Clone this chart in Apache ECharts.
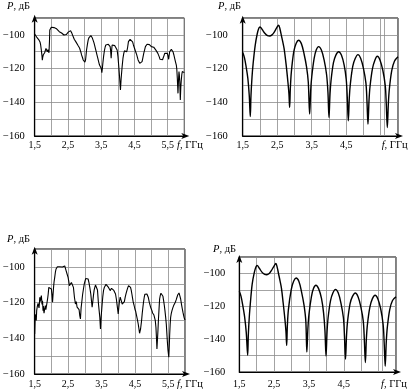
<!DOCTYPE html>
<html><head><meta charset="utf-8">
<script src="https://cdn.jsdelivr.net/npm/echarts@6/dist/echarts.min.js"></script>
<style>html,body{margin:0;padding:0;background:#fff}#c{width:412px;height:392px}</style>
</head><body><div id="c"></div>
<script>
// ---- data (f in GHz, P in dB) ----
const yTickLabels = [-160, -140, -120, -100];
const xTickLabelsA = [1.5, 2.5, 3.5, 4.5, 5.5];
const xTickLabelsB = [1.5, 2.5, 3.5, 4.5];
const extraGridB = [5.61];

const measuredTop = [
[1.50,-99.5],[1.51,-99.0],[1.52,-100.5],[1.54,-100.2],[1.56,-101.3],[1.58,-101.0],[1.60,-102.2],[1.62,-102.8],[1.64,-103.5],[1.66,-104.2],[1.68,-106.0],[1.70,-109.0],[1.72,-112.5],[1.73,-115.0],[1.745,-113.0],[1.76,-111.8],[1.78,-112.3],[1.80,-110.6],[1.82,-109.5],[1.84,-108.0],[1.86,-107.0],[1.87,-108.5],[1.88,-110.0],[1.90,-108.8],[1.91,-109.3],[1.93,-110.6],[1.945,-104],[1.955,-97.1],[1.97,-96.0],[1.985,-96.3],[2.00,-95.5],[2.02,-95.8],[2.04,-96.1],[2.06,-95.4],[2.08,-95.7],[2.09,-95.1],[2.11,-95.9],[2.13,-95.4],[2.14,-95.7],[2.16,-96.4],[2.19,-96.7],[2.21,-97.4],[2.24,-98.1],[2.26,-97.6],[2.29,-98.1],[2.31,-98.9],[2.33,-99.1],[2.36,-99.8],[2.38,-100.1],[2.40,-99.6],[2.43,-99.5],[2.45,-99.8],[2.48,-99.1],[2.51,-98.4],[2.53,-98.1],[2.56,-97.7],[2.58,-97.5],[2.60,-98.3],[2.62,-99.1],[2.645,-100.4],[2.67,-101.5],[2.69,-102.6],[2.72,-103.0],[2.745,-104.3],[2.77,-105.0],[2.80,-106.2],[2.82,-107.0],[2.85,-107.8],[2.87,-108.6],[2.89,-110.3],[2.91,-111.9],[2.94,-113.6],[2.96,-114.9],[2.99,-115.9],[3.01,-116.2],[3.03,-114.9],[3.045,-112],[3.06,-109.0],[3.085,-105.8],[3.11,-103.0],[3.135,-101.6],[3.16,-100.7],[3.19,-100.4],[3.21,-101.0],[3.235,-101.9],[3.26,-103.0],[3.28,-104.5],[3.30,-106.0],[3.325,-108.0],[3.35,-110.0],[3.375,-112.0],[3.40,-113.9],[3.425,-116.0],[3.45,-117.9],[3.475,-118.8],[3.50,-119.8],[3.52,-122.4],[3.535,-120],[3.55,-116.9],[3.575,-112.5],[3.60,-109.0],[3.62,-107.2],[3.64,-106.0],[3.665,-105.3],[3.69,-105.0],[3.715,-105.6],[3.74,-105.4],[3.76,-106.2],[3.77,-107.0],[3.785,-109.5],[3.80,-113.9],[3.815,-109.0],[3.83,-106.0],[3.86,-105.8],[3.89,-105.6],[3.91,-106.4],[3.93,-106.0],[3.955,-107.2],[3.98,-109.0],[4.005,-113.0],[4.03,-118.9],[4.055,-125.5],[4.08,-132.7],[4.10,-126],[4.13,-118.9],[4.155,-114],[4.18,-111.0],[4.20,-109.5],[4.22,-109.0],[4.245,-110.2],[4.27,-110.0],[4.295,-107.5],[4.32,-104.0],[4.345,-103.0],[4.37,-102.7],[4.39,-102.2],[4.42,-103.0],[4.445,-104.2],[4.47,-106.0],[4.495,-107.5],[4.52,-109.0],[4.545,-110.5],[4.57,-111.9],[4.59,-113.4],[4.61,-114.9],[4.635,-115.9],[4.66,-116.9],[4.69,-117.9],[4.71,-117.0],[4.73,-115.9],[4.755,-113.5],[4.78,-111.0],[4.805,-109.0],[4.83,-107.0],[4.855,-106.0],[4.88,-105.6],[4.90,-105.0],[4.92,-105.3],[4.95,-105.8],[4.98,-106.6],[5.01,-107.0],[5.05,-107.6],[5.08,-107.3],[5.12,-108.0],[5.15,-109.2],[5.18,-110.0],[5.205,-111.0],[5.23,-111.9],[5.25,-113.2],[5.27,-114.5],[5.295,-115.1],[5.32,-115.3],[5.345,-114.8],[5.37,-113.9],[5.39,-112.3],[5.41,-111.0],[5.43,-110.2],[5.45,-110.0],[5.47,-110.4],[5.49,-111.0],[5.51,-112.5],[5.53,-114.5],[5.545,-112.0],[5.56,-110.0],[5.585,-109.0],[5.61,-108.6],[5.635,-109.2],[5.66,-110.0],[5.685,-111.8],[5.71,-113.9],[5.735,-116.0],[5.76,-117.9],[5.775,-120.5],[5.79,-125.8],[5.81,-134.7],[5.825,-127],[5.84,-121.8],[5.85,-123.5],[5.865,-128],[5.88,-138.6],[5.895,-131],[5.91,-126.7],[5.925,-123.5],[5.94,-121.8],[5.955,-122.2],[5.97,-122.8],[5.985,-122.0],[6.00,-122.4]
];

const calcTop = [
[1.50,-110.5],[1.55,-113.5],[1.60,-119],[1.65,-126],[1.69,-136],[1.72,-148.5],
[1.74,-136],[1.77,-125],[1.80,-117.5],[1.86,-106.5],[1.92,-99.5],[1.97,-96],[2.00,-95.3],[2.07,-97],[2.14,-99],[2.22,-100.5],[2.28,-100.7],[2.35,-100],[2.41,-98.5],[2.48,-96],[2.54,-94.3],[2.58,-96.5],[2.62,-100.3],[2.66,-104],[2.70,-108.2],[2.76,-118],[2.81,-128],[2.84,-135],[2.86,-143],
[2.88,-132],[2.91,-122],[2.98,-110],[3.05,-105],[3.12,-103.2],[3.20,-105.2],[3.28,-111.5],[3.35,-119],[3.40,-128],[3.44,-147],
[3.47,-133],[3.50,-125],[3.57,-114],[3.63,-109],[3.70,-107],[3.78,-109],[3.86,-115],[3.93,-123.5],[3.97,-134],[4.00,-149],
[4.03,-135],[4.06,-127],[4.13,-116.5],[4.20,-112],[4.28,-110],[4.36,-112],[4.44,-118],[4.50,-126.5],[4.53,-137],[4.56,-151],
[4.59,-137],[4.62,-129],[4.69,-118.5],[4.76,-114],[4.84,-111.7],[4.92,-114],[5.00,-120],[5.07,-128.5],[5.10,-139],[5.13,-153],
[5.16,-139],[5.19,-130.5],[5.26,-120],[5.33,-115],[5.40,-112.7],[5.48,-115],[5.56,-121],[5.63,-130],[5.66,-141],[5.69,-155],
[5.72,-141],[5.75,-132],[5.82,-121],[5.90,-115.5],[6.00,-113]
];

const measuredBottom = [
[1.50,-137.6],[1.51,-131],[1.52,-127],[1.53,-128.5],[1.538,-126.4],[1.548,-130],[1.56,-124.5],[1.575,-122.6],[1.59,-121.5],[1.60,-120.5],[1.616,-119.8],[1.63,-123],[1.64,-121],[1.653,-117],[1.665,-119.5],[1.68,-118],[1.70,-116.1],[1.71,-118.5],[1.72,-121],[1.735,-119],[1.75,-124.5],[1.76,-122],[1.77,-121.5],[1.78,-126],[1.79,-126.4],[1.80,-123.5],[1.82,-121.7],[1.835,-124],[1.85,-123],[1.865,-120.5],[1.876,-119.8],[1.89,-117.5],[1.905,-115.2],[1.923,-111.5],[1.94,-111.0],[1.963,-111.3],[1.98,-111.5],[2.00,-112.4],[2.02,-116.0],[2.035,-119.8],[2.05,-115.5],[2.065,-111.5],[2.08,-108.5],[2.10,-105.9],[2.12,-103.0],[2.14,-101.2],[2.16,-100.3],[2.18,-99.9],[2.19,-99.2],[2.205,-100.0],[2.22,-99.4],[2.23,-99.5],[2.245,-99.9],[2.26,-99.3],[2.28,-100.3],[2.295,-99.6],[2.31,-99.6],[2.33,-100.1],[2.345,-99.4],[2.36,-99.8],[2.38,-100.0],[2.40,-99.5],[2.415,-100.1],[2.43,-99.8],[2.44,-102.1],[2.47,-104.0],[2.50,-105.9],[2.52,-108.0],[2.54,-110.5],[2.56,-111.3],[2.58,-111.5],[2.60,-108.8],[2.62,-107.7],[2.64,-109.0],[2.66,-111.5],[2.69,-117.0],[2.72,-120.8],[2.745,-119.5],[2.77,-122.6],[2.80,-121.8],[2.83,-124.0],[2.85,-127.3],[2.87,-129.2],[2.89,-123.0],[2.91,-119.8],[2.935,-115.5],[2.96,-112.4],[2.985,-109.5],[3.01,-107.7],[3.03,-106.5],[3.05,-105.9],[3.075,-106.0],[3.10,-106.8],[3.125,-108.8],[3.15,-111.5],[3.18,-115.2],[3.20,-119.0],[3.22,-122.6],[3.24,-119.5],[3.26,-116.0],[3.28,-113.0],[3.30,-111.5],[3.32,-110.2],[3.34,-109.6],[3.36,-110.5],[3.38,-113.0],[3.41,-120.8],[3.43,-124.5],[3.45,-128.3],[3.47,-134.8],[3.49,-128],[3.52,-120.8],[3.54,-116.5],[3.56,-113.3],[3.585,-111.5],[3.61,-110.5],[3.635,-109.8],[3.66,-109.6],[3.685,-110.3],[3.71,-111.5],[3.735,-112.5],[3.76,-113.3],[3.78,-112.6],[3.80,-112.0],[3.82,-111.5],[3.845,-112.4],[3.87,-113.2],[3.89,-114.0],[3.92,-115.2],[3.945,-118.0],[3.97,-121.7],[3.985,-124.0],[4.00,-126.4],[4.02,-122.5],[4.04,-119.0],[4.06,-117.0],[4.08,-118.0],[4.10,-119.5],[4.12,-120.8],[4.14,-121.2],[4.16,-121.7],[4.185,-119.5],[4.21,-117.0],[4.235,-115.0],[4.26,-113.3],[4.285,-111.8],[4.31,-110.5],[4.34,-109.6],[4.37,-111.5],[4.39,-113.0],[4.41,-115.2],[4.43,-117.5],[4.45,-119.8],[4.475,-121.5],[4.50,-123.6],[4.525,-125.0],[4.55,-127.3],[4.575,-129.5],[4.60,-132.0],[4.62,-134.5],[4.64,-137.2],[4.655,-136.0],[4.67,-134.8],[4.70,-130.1],[4.72,-126.0],[4.74,-122.6],[4.76,-119.5],[4.78,-117.0],[4.80,-115.3],[4.82,-114.3],[4.84,-114.6],[4.86,-115.2],[4.88,-116.0],[4.90,-117.0],[4.93,-119.8],[4.97,-122.6],[5.01,-124.5],[5.03,-125.8],[5.05,-126.4],[5.07,-127.0],[5.09,-127.3],[5.11,-130.0],[5.13,-133.8],[5.145,-139.5],[5.16,-146.0],[5.175,-141.0],[5.19,-135.7],[5.205,-129.5],[5.22,-124.5],[5.24,-118.0],[5.26,-116.0],[5.28,-114.8],[5.30,-114.6],[5.32,-115.2],[5.34,-116.5],[5.36,-118.9],[5.38,-121.5],[5.40,-124.5],[5.42,-128.0],[5.44,-132.0],[5.47,-141.3],[5.49,-146.5],[5.515,-150.6],[5.53,-144.0],[5.54,-138.5],[5.555,-132.5],[5.57,-128.3],[5.59,-126.0],[5.61,-124.5],[5.635,-123.0],[5.66,-121.7],[5.685,-120.8],[5.71,-119.8],[5.735,-118.5],[5.76,-117.0],[5.78,-115.8],[5.80,-114.8],[5.82,-114.6],[5.835,-115.0],[5.85,-116.5],[5.87,-118.0],[5.895,-121.0],[5.92,-123.6],[5.94,-125.5],[5.96,-127.3],[5.98,-128.8],[6.00,-129.8]
];

const calcBottom = [
[1.50,-110.9],[1.55,-114],[1.60,-119.5],[1.65,-126],[1.70,-136],[1.74,-149.8],
[1.76,-137],[1.79,-125.5],[1.82,-117.5],[1.87,-106.5],[1.93,-99.5],[1.98,-96],[2.01,-95.1],[2.08,-97],[2.15,-99.2],[2.23,-100.6],[2.29,-100.8],[2.36,-100],[2.42,-98.3],[2.49,-95.8],[2.55,-94],[2.59,-96.5],[2.63,-100.5],[2.67,-104.5],[2.71,-109],[2.76,-118],[2.81,-128],[2.84,-135.5],[2.86,-143.8],
[2.88,-132],[2.91,-122],[2.99,-110],[3.06,-104.8],[3.13,-102.8],[3.21,-104.8],[3.29,-111.5],[3.36,-119.5],[3.41,-129],[3.44,-147.8],
[3.47,-133.5],[3.50,-125],[3.57,-114.2],[3.63,-109.2],[3.70,-107.2],[3.78,-109.4],[3.86,-115.2],[3.92,-124],[3.96,-135],[3.99,-150.3],
[4.02,-135.5],[4.05,-127],[4.12,-116.5],[4.19,-111.8],[4.26,-109.7],[4.34,-111.8],[4.42,-118.2],[4.49,-127],[4.52,-138],[4.55,-152.3],
[4.58,-137.5],[4.61,-129],[4.68,-118.5],[4.75,-114],[4.83,-111.9],[4.91,-114.2],[4.99,-120.3],[5.06,-129],[5.09,-140],[5.12,-154.3],
[5.15,-139.5],[5.18,-131],[5.25,-120.5],[5.32,-115.5],[5.40,-113.3],[5.48,-115.5],[5.56,-121.5],[5.63,-131],[5.66,-142],[5.69,-156.5],
[5.72,-142],[5.75,-133],[5.82,-122],[5.90,-116.5],[6.00,-114.3]
];

// ---- layout ----
const FONT = "'Liberation Serif','Times New Roman',serif";
const FS = 10.5;
const FSX = 10;
const panels = [
  {grid:{left:29.7, top:18, width:154.6, height:118}, data:measuredTop, xl:xTickLabelsA, ylm:10, xlm:4, yOff:3.3, lw:1.1, smooth:false, extra:[],
   pName:[30,6], fName:[177,145.7]},
  {grid:{left:242.7, top:18, width:155.3, height:118}, data:calcTop, xl:xTickLabelsB, ylm:15, xlm:4, yOff:2.3, lw:1.4, smooth:0.35, extra:extraGridB,
   pName:[241,6], fName:[381.7,145.7]},
  {grid:{left:29.7, top:249, width:155.3, height:125}, data:measuredBottom, xl:xTickLabelsA, ylm:10, xlm:5, yOff:2.3, lw:1.1, smooth:false, extra:[],
   pName:[30,239], fName:[177,384.3]},
  {grid:{left:239.3, top:257, width:156.7, height:115}, data:calcBottom, xl:xTickLabelsB, ylm:14, xlm:7, yOff:2, lw:1.4, smooth:0.35, extra:extraGridB,
   pName:[236,249], fName:[381,384.3]}
];

const fmtX = v => v.toFixed(1).replace('.', ',');
const grids = [], xAxes = [], yAxes = [], series = [], graphics = [];
panels.forEach((p, i) => {
  grids.push(Object.assign({show:true, borderColor:'#000', borderWidth:1, backgroundColor:'transparent'}, p.grid));
  xAxes.push({
    type:'value', gridIndex:i, min:1.5, max:6, interval:0.5,
    axisLine:{show:true, lineStyle:{color:'#000', width:1.2}, symbol:['none','arrow'], symbolSize:[4.5,8], symbolOffset:[0,5]},
    axisTick:{show:false},
    splitLine:{show:true, lineStyle:{color:'#8c8c8c', width:0.8}},
    axisLabel:{margin:p.xlm, color:'#000', fontFamily:FONT, fontSize:FSX, showMaxLabel:false,
      formatter: v => (p.xl.some(t => Math.abs(t - v) < 1e-6) ? fmtX(v) : '')}
  });
  yAxes.push({
    type:'value', gridIndex:i, min:-160, max:-90, interval:10,
    axisLine:{show:true, lineStyle:{color:'#000', width:1.2}, symbol:['none','arrow'], symbolSize:[4.5,8], symbolOffset:[0,p.yOff]},
    axisTick:{show:false},
    splitLine:{show:true, lineStyle:{color:'#8c8c8c', width:0.8}},
    axisLabel:{margin:p.ylm, color:'#000', fontFamily:FONT, fontSize:FS, showMaxLabel:false,
      formatter: v => (yTickLabels.indexOf(v) >= 0 ? '\u2212' + Math.abs(v) : '')}
  });
  const s = {
    type:'line', xAxisIndex:i, yAxisIndex:i, data:p.data, showSymbol:false, smooth:p.smooth,
    lineStyle:{color:'#000', width:p.lw}, animation:false, z:5
  };
  if (p.extra.length) {
    s.markLine = {silent:true, symbol:'none', label:{show:false},
      lineStyle:{color:'#8c8c8c', width:0.8, type:'solid'}, data:p.extra.map(x => ({xAxis:x}))};
  }
  series.push(s);
  graphics.push({type:'text', x:p.pName[0], y:p.pName[1],
    style:{text:'{i|P}, дБ', align:'right', verticalAlign:'middle', fontFamily:FONT, fontSize:FS, fill:'#000',
      rich:{i:{fontStyle:'italic', fontFamily:FONT, fontSize:FS}}}});
  graphics.push({type:'text', x:p.fName[0], y:p.fName[1],
    style:{text:'{i|f}, ГГц', align:'left', verticalAlign:'middle', fontFamily:FONT, fontSize:FS, fill:'#000',
      rich:{i:{fontStyle:'italic', fontFamily:FONT, fontSize:FS}}}});
});

const chart = echarts.init(document.getElementById('c'), null, {renderer:'canvas'});
chart.setOption({
  animation:false, backgroundColor:'#fff',
  grid:grids, xAxis:xAxes, yAxis:yAxes, series:series, graphic:graphics
});
</script></body></html>
